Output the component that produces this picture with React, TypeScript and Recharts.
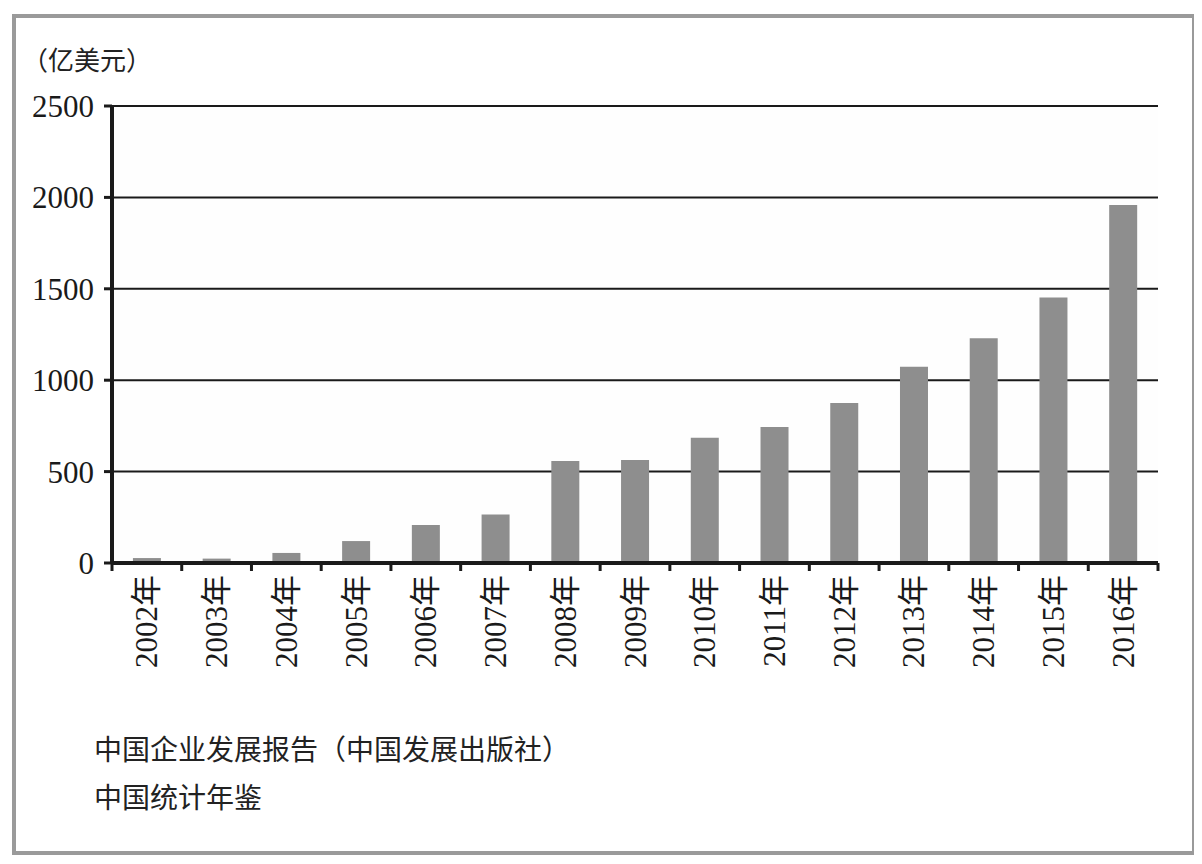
import React from 'react';
import { BarChart, Bar, XAxis, YAxis, CartesianGrid, LabelList } from 'recharts';

const years = ['2002年', '2003年', '2004年', '2005年', '2006年', '2007年', '2008年', '2009年', '2010年', '2011年', '2012年', '2013年', '2014年', '2015年', '2016年'];
const amounts = [27, 24, 55, 120, 208, 265, 558, 563, 685, 744, 875, 1074, 1229, 1453, 1958];
const yTicks = [0, 500, 1000, 1500, 2000, 2500];
const unitLabel = '（亿美元）';
const sources = ['中国企业发展报告（中国发展出版社）', '中国统计年鉴'];

// categories sit in the middle of unit-wide slots so axis ticks fall on slot edges
const data = years.map((year, i) => ({ slot: i + 0.5, year, amount: amounts[i] }));
const edgeTicks = years.map((_, i) => i).concat(years.length);

const SERIF = "'Liberation Serif', 'DejaVu Serif', 'Noto Sans CJK SC', serif";
const CJK = "'Noto Sans CJK SC', sans-serif";

function YearLabel(props: any) {
  const { x, y, width, height, value } = props;
  const cx = x + width / 2;
  const cy = y + height + 12;
  return (
    <text
      x={cx}
      y={cy}
      transform={`rotate(-90 ${cx} ${cy})`}
      textAnchor="end"
      dominantBaseline="central"
      fontFamily={SERIF}
      fontSize={31}
      fill="#1a1a1a"
    >
      {value}
    </text>
  );
}

export default function App() {
  return (
    <div style={{ position: 'relative', width: 1186, height: 848 }}>
      <div
        style={{
          position: 'absolute',
          left: 4,
          top: 6,
          width: 1184,
          height: 841,
          boxSizing: 'border-box',
          border: '4px solid #9a9a9a',
        }}
      />
      <div
        style={{
          position: 'absolute',
          left: 14,
          top: 36,
          fontFamily: CJK,
          fontSize: 26,
          lineHeight: '30px',
          color: '#222',
        }}
      >
        {unitLabel}
      </div>
      <div style={{ position: 'absolute', left: 0, top: 0 }}>
        <BarChart
          width={1180}
          height={700}
          data={data}
          margin={{ top: 98, right: 30, bottom: 25, left: 4 }}
          barCategoryGap="30%"
        >
          <CartesianGrid
            vertical={false}
            stroke="#1a1a1a"
            strokeWidth={2}
            fill="#fefefe"
          />
          <XAxis
            dataKey="slot"
            type="number"
            domain={[0, years.length]}
            ticks={edgeTicks}
            interval={0}
            tickFormatter={() => ''}
            height={120}
            tickSize={8}
            axisLine={{ stroke: '#1a1a1a', strokeWidth: 4 }}
            tickLine={{ stroke: '#1a1a1a', strokeWidth: 3 }}
          />
          <YAxis
            width={100}
            domain={[0, 2500]}
            ticks={yTicks}
            interval={0}
            tickSize={8}
            tickMargin={10}
            axisLine={{ stroke: '#1a1a1a', strokeWidth: 4 }}
            tickLine={{ stroke: '#1a1a1a', strokeWidth: 3 }}
            tick={{ fontFamily: SERIF, fontSize: 31, fill: '#1a1a1a' }}
          />
          <Bar dataKey="amount" fill="#8e8e8e" isAnimationActive={false}>
            <LabelList dataKey="year" content={<YearLabel />} />
          </Bar>
        </BarChart>
      </div>
      <div
        style={{
          position: 'absolute',
          left: 86,
          top: 716,
          fontFamily: CJK,
          fontSize: 28,
          lineHeight: '48px',
          color: '#222',
        }}
      >
        {sources.map((s) => (
          <div key={s}>{s}</div>
        ))}
      </div>
    </div>
  );
}
